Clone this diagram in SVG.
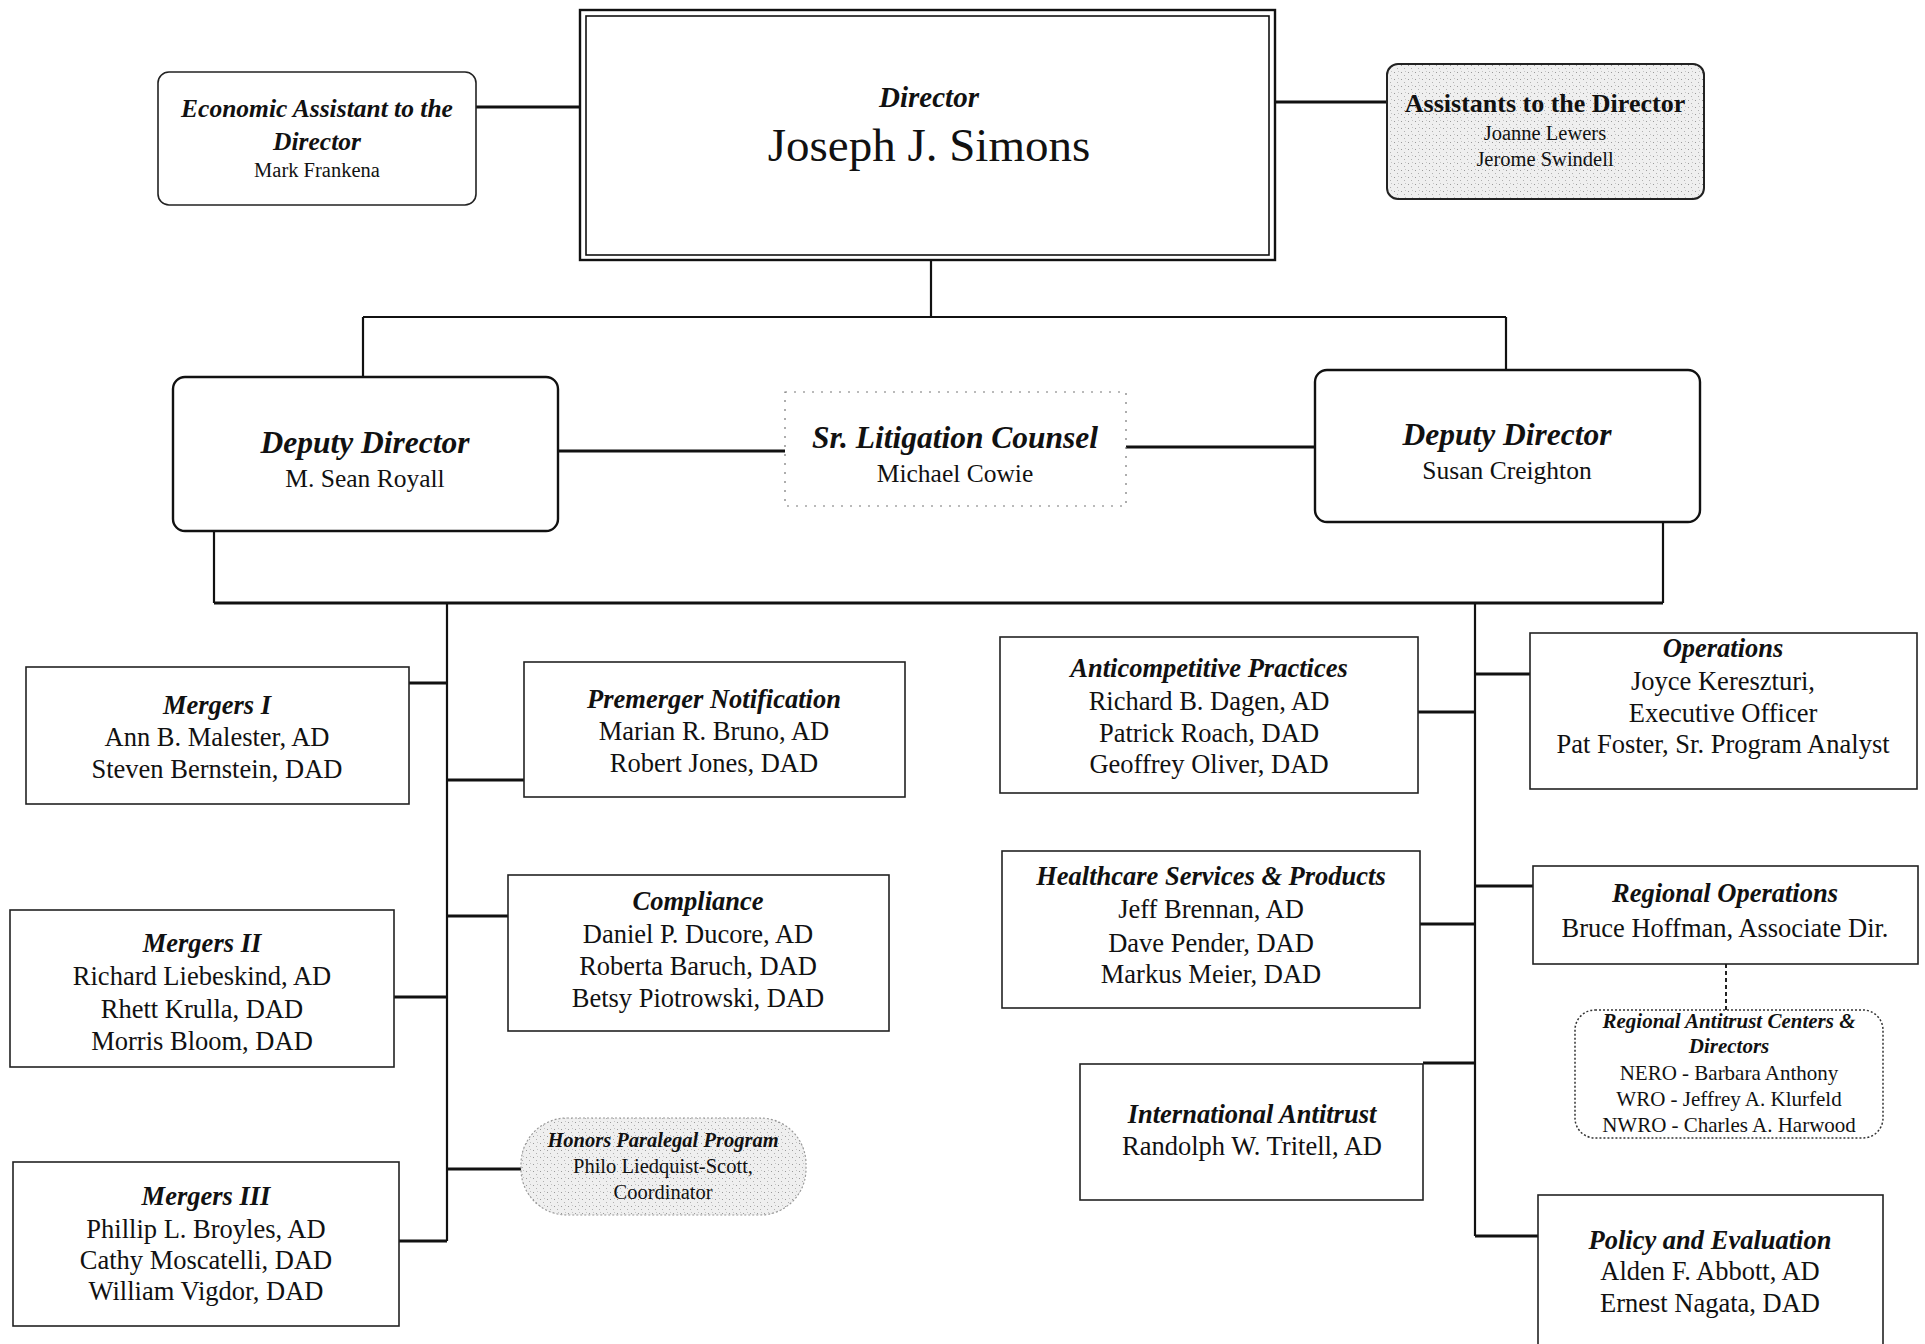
<svg xmlns="http://www.w3.org/2000/svg" width="1925" height="1344" viewBox="0 0 1925 1344">
<defs>
<pattern id="stip" width="7" height="7" patternUnits="userSpaceOnUse">
<rect width="7" height="7" fill="#efefef"/>
<rect x="1" y="2" width="1" height="1" fill="#9a9a9a"/>
<rect x="4" y="5" width="1" height="1" fill="#b0b0b0"/>
<rect x="5" y="1" width="1" height="1" fill="#c4c4c4"/>
</pattern>
<style>
.t{font-family:"Liberation Serif","Times New Roman",serif;fill:#111;text-anchor:middle}
.bi{font-weight:bold;font-style:italic}
.b{font-weight:bold}
.box{fill:#fff;stroke:#222;stroke-width:1.6}
.rbox{fill:#fff;stroke:#111;stroke-width:2.4}
.c{stroke:#111;stroke-width:2.2;fill:none}
.s{stroke:#111;stroke-width:3.2;fill:none}
.f26{font-size:26.5px}
.f20{font-size:21px}
</style>
</defs>
<rect width="1925" height="1344" fill="#fff"/>

<g id="connectors">
<line class="s" x1="476" y1="107" x2="580" y2="107"/>
<line class="s" x1="1275" y1="102" x2="1387" y2="102"/>
<line class="c" x1="931" y1="260" x2="931" y2="317"/>
<line class="c" x1="363" y1="317" x2="1506" y2="317"/>
<line class="c" x1="363" y1="317" x2="363" y2="377"/>
<line class="c" x1="1506" y1="317" x2="1506" y2="370"/>
<line class="s" x1="558" y1="451" x2="785" y2="451"/>
<line class="s" x1="1126" y1="447" x2="1315" y2="447"/>
<line class="c" x1="214" y1="531" x2="214" y2="603"/>
<line class="s" x1="214" y1="603" x2="1663" y2="603"/>
<line class="c" x1="1663" y1="522" x2="1663" y2="603"/>
<line class="c" x1="447" y1="603" x2="447" y2="1241"/>
<line class="s" x1="409" y1="683" x2="447" y2="683"/>
<line class="s" x1="447" y1="780" x2="524" y2="780"/>
<line class="s" x1="447" y1="916" x2="508" y2="916"/>
<line class="s" x1="394" y1="997" x2="447" y2="997"/>
<line class="s" x1="447" y1="1169" x2="521" y2="1169"/>
<line class="s" x1="399" y1="1241" x2="447" y2="1241"/>
<line class="c" x1="1475" y1="603" x2="1475" y2="1236"/>
<line class="s" x1="1475" y1="674" x2="1530" y2="674"/>
<line class="s" x1="1418" y1="712" x2="1475" y2="712"/>
<line class="s" x1="1475" y1="886" x2="1533" y2="886"/>
<line class="s" x1="1420" y1="924" x2="1475" y2="924"/>
<line class="s" x1="1423" y1="1063" x2="1475" y2="1063"/>
<line class="s" x1="1475" y1="1236" x2="1538" y2="1236"/>
<line x1="1726" y1="964" x2="1726" y2="1010" stroke="#222" stroke-width="2" stroke-dasharray="4 3"/>
</g>

<g id="director">
<rect x="580" y="10" width="695" height="250" fill="#fff" stroke="#111" stroke-width="2.4"/>
<rect x="586" y="16" width="683" height="239" fill="none" stroke="#111" stroke-width="1.6"/>
<text class="t bi" x="929" y="107" font-size="29">Director</text>
<text class="t" x="929" y="161" font-size="47">Joseph J. Simons</text>
</g>

<g id="econ-assistant">
<rect class="box" x="158" y="72" width="318" height="133" rx="11" stroke-width="2.2"/>
<text class="t bi" x="317" y="117" font-size="25.5">Economic Assistant to the</text>
<text class="t bi" x="317" y="150" font-size="25.5">Director</text>
<text class="t" x="317" y="177" font-size="20.5">Mark Frankena</text>
</g>

<g id="assistants">
<rect x="1387" y="64" width="317" height="135" rx="11" fill="url(#stip)" stroke="#222" stroke-width="2"/>
<text class="t b" x="1545" y="112" font-size="26">Assistants to the Director</text>
<text class="t" x="1545" y="140" font-size="20.5">Joanne Lewers</text>
<text class="t" x="1545" y="166" font-size="20.5">Jerome Swindell</text>
</g>

<g id="deputy-royall">
<rect class="rbox" x="173" y="377" width="385" height="154" rx="12"/>
<text class="t bi" x="365" y="453" font-size="31.5">Deputy Director</text>
<text class="t" x="365" y="487" font-size="25.5">M. Sean Royall</text>
</g>

<g id="litigation-counsel">
<rect x="785" y="392" width="341" height="114" fill="#fff" stroke="#777" stroke-width="1.2" stroke-dasharray="2 7"/>
<text class="t bi" x="955" y="448" font-size="31.5">Sr. Litigation Counsel</text>
<text class="t" x="955" y="482" font-size="25.5">Michael Cowie</text>
</g>

<g id="deputy-creighton">
<rect class="rbox" x="1315" y="370" width="385" height="152" rx="12"/>
<text class="t bi" x="1507" y="445" font-size="31.5">Deputy Director</text>
<text class="t" x="1507" y="479" font-size="25.5">Susan Creighton</text>
</g>

<g id="mergers-1">
<rect class="box" x="26" y="667" width="383" height="137"/>
<text class="t bi f26" x="217" y="714">Mergers I</text>
<text class="t f26" x="217" y="746">Ann B. Malester, AD</text>
<text class="t f26" x="217" y="778">Steven Bernstein, DAD</text>
</g>

<g id="premerger">
<rect class="box" x="524" y="662" width="381" height="135"/>
<text class="t bi f26" x="714" y="708">Premerger Notification</text>
<text class="t f26" x="714" y="740">Marian R. Bruno, AD</text>
<text class="t f26" x="714" y="772">Robert Jones, DAD</text>
</g>

<g id="mergers-2">
<rect class="box" x="10" y="910" width="384" height="157"/>
<text class="t bi f26" x="202" y="952">Mergers II</text>
<text class="t f26" x="202" y="985">Richard Liebeskind, AD</text>
<text class="t f26" x="202" y="1018">Rhett Krulla, DAD</text>
<text class="t f26" x="202" y="1050">Morris Bloom, DAD</text>
</g>

<g id="compliance">
<rect class="box" x="508" y="875" width="381" height="156"/>
<text class="t bi f26" x="698" y="910">Compliance</text>
<text class="t f26" x="698" y="943">Daniel P. Ducore, AD</text>
<text class="t f26" x="698" y="975">Roberta Baruch, DAD</text>
<text class="t f26" x="698" y="1007">Betsy Piotrowski, DAD</text>
</g>

<g id="honors-paralegal">
<rect x="521" y="1118" width="285" height="97" rx="46" fill="url(#stip)" stroke="#999" stroke-width="1.2" stroke-dasharray="2 2"/>
<text class="t bi" x="663" y="1147" font-size="20.5">Honors Paralegal Program</text>
<text class="t" x="663" y="1173" font-size="20.5">Philo Liedquist-Scott,</text>
<text class="t" x="663" y="1199" font-size="20.5">Coordinator</text>
</g>

<g id="mergers-3">
<rect class="box" x="13" y="1162" width="386" height="164"/>
<text class="t bi f26" x="206" y="1205">Mergers III</text>
<text class="t f26" x="206" y="1238">Phillip L. Broyles, AD</text>
<text class="t f26" x="206" y="1269">Cathy Moscatelli, DAD</text>
<text class="t f26" x="206" y="1300">William Vigdor, DAD</text>
</g>

<g id="anticompetitive">
<rect class="box" x="1000" y="637" width="418" height="156"/>
<text class="t bi f26" x="1209" y="677">Anticompetitive Practices</text>
<text class="t f26" x="1209" y="710">Richard B. Dagen, AD</text>
<text class="t f26" x="1209" y="742">Patrick Roach, DAD</text>
<text class="t f26" x="1209" y="773">Geoffrey Oliver, DAD</text>
</g>

<g id="operations">
<rect class="box" x="1530" y="633" width="387" height="156"/>
<text class="t bi f26" x="1723" y="657">Operations</text>
<text class="t f26" x="1723" y="690">Joyce Kereszturi,</text>
<text class="t f26" x="1723" y="722">Executive Officer</text>
<text class="t f26" x="1723" y="753">Pat Foster, Sr. Program Analyst</text>
</g>

<g id="healthcare">
<rect class="box" x="1002" y="851" width="418" height="157"/>
<text class="t bi f26" x="1211" y="885">Healthcare Services &amp; Products</text>
<text class="t f26" x="1211" y="918">Jeff Brennan, AD</text>
<text class="t f26" x="1211" y="952">Dave Pender, DAD</text>
<text class="t f26" x="1211" y="983">Markus Meier, DAD</text>
</g>

<g id="regional-operations">
<rect class="box" x="1533" y="866" width="385" height="98"/>
<text class="t bi f26" x="1725" y="902">Regional Operations</text>
<text class="t f26" x="1725" y="937">Bruce Hoffman, Associate Dir.</text>
</g>

<g id="regional-centers">
<rect x="1575" y="1010" width="308" height="128" rx="20" fill="#fff" stroke="#333" stroke-width="1.5" stroke-dasharray="2 2"/>
<text class="t bi f20" x="1729" y="1028">Regional Antitrust Centers &amp;</text>
<text class="t bi f20" x="1729" y="1053">Directors</text>
<text class="t f20" x="1729" y="1080">NERO - Barbara Anthony</text>
<text class="t f20" x="1729" y="1106">WRO - Jeffrey A. Klurfeld</text>
<text class="t f20" x="1729" y="1132">NWRO - Charles A. Harwood</text>
</g>

<g id="international">
<rect class="box" x="1080" y="1064" width="343" height="136"/>
<text class="t bi f26" x="1252" y="1123">International Antitrust</text>
<text class="t f26" x="1252" y="1155">Randolph W. Tritell, AD</text>
</g>

<g id="policy">
<rect class="box" x="1538" y="1195" width="345" height="170"/>
<text class="t bi f26" x="1710" y="1249">Policy and Evaluation</text>
<text class="t f26" x="1710" y="1280">Alden F. Abbott, AD</text>
<text class="t f26" x="1710" y="1312">Ernest Nagata, DAD</text>
</g>
</svg>
